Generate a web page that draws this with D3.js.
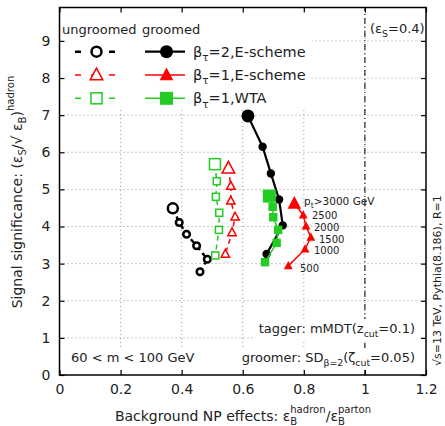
<!DOCTYPE html>
<html><head><meta charset="utf-8">
<script src="https://cdn.jsdelivr.net/npm/d3@7"></script>
<style>body{margin:0;background:#fff}svg{display:block}text{font-family:"DejaVu Sans",sans-serif;fill:#222}</style>
</head><body><div id="c"></div>
<script>
// ---- data ----
const xTicks = [0, 0.2, 0.4, 0.6, 0.8, 1, 1.2];
const yTicks = [0, 1, 2, 3, 4, 5, 6, 7, 8, 9];
const ptLabels = ["p_t>3000 GeV", "2500", "2000", "1500", "1000", "500"];
// ungroomed (open markers, dashed)
const ungB2E_x = [0.371, 0.392, 0.416, 0.449, 0.484, 0.460];
const ungB2E_y = [4.49, 4.11, 3.79, 3.48, 3.12, 2.78];
const ungB1E_x = [0.553, 0.561, 0.561, 0.575, 0.565, 0.543];
const ungB1E_y = [5.57, 5.09, 4.69, 4.26, 3.84, 3.26];
const ungB1W_x = [0.509, 0.515, 0.512, 0.523, 0.522, 0.510];
const ungB1W_y = [5.68, 5.22, 4.80, 4.37, 3.91, 3.22];
// groomed (filled markers, solid)
const grB2E_x = [0.617, 0.665, 0.692, 0.719, 0.731, 0.678];
const grB2E_y = [6.98, 6.15, 5.43, 4.73, 4.03, 3.26];
const grB1E_x = [0.769, 0.798, 0.807, 0.823, 0.804, 0.749];
const grB1E_y = [4.62, 4.31, 4.01, 3.71, 3.39, 2.94];
const grB1W_x = [0.687, 0.698, 0.700, 0.716, 0.711, 0.673];
const grB1W_y = [4.82, 4.53, 4.25, 3.91, 3.56, 3.04];

const BLACK = "#000", RED = "#ff0000", GREEN = "#22cc22";
const series = [
  {x: ungB2E_x, y: ungB2E_y, color: BLACK, shape: "circle", filled: false, lw: 2.5, dash: "5,4"},
  {x: ungB1E_x, y: ungB1E_y, color: RED, shape: "triangle", filled: false, lw: 1.5, dash: "5,4"},
  {x: ungB1W_x, y: ungB1W_y, color: GREEN, shape: "square", filled: false, lw: 1.5, dash: "5,4"},
  {x: grB2E_x, y: grB2E_y, color: BLACK, shape: "circle", filled: true, lw: 2.2, dash: null},
  {x: grB1E_x, y: grB1E_y, color: RED, shape: "triangle", filled: true, lw: 1.5, dash: null},
  {x: grB1W_x, y: grB1W_y, color: GREEN, shape: "square", filled: true, lw: 1.5, dash: null}
];

const W = 445, H = 426;
const svg = d3.select("#c").append("svg").attr("width", W).attr("height", H);
const x = d3.scaleLinear().domain([0, 1.2]).range([59.5, 426]);
const y = d3.scaleLinear().domain([0, 9.9]).range([375, 7.5]);

const gGrid = svg.append("g"), gBox = svg.append("g"), gText = svg.append("g"),
      gData = svg.append("g"), gFrame = svg.append("g");

// rich text helper
function rich(t, parts, size) {
  let cur = 0;
  parts.forEach(p => {
    const ts = t.append("tspan").text(p.t);
    const target = p.sub ? size * 0.3 : p.sup ? -size * 0.55 : 0;
    ts.attr("dy", target - cur); cur = target;
    if (p.sub || p.sup) ts.attr("font-size", size * 0.72);
    if (p.dx) ts.attr("dx", p.dx);
  });
  return t;
}
function boxed(t, padX, padY) {
  const b = t.node().getBBox();
  gBox.append("rect").attr("x", b.x - padX).attr("y", b.y - padY)
    .attr("width", b.width + 2 * padX).attr("height", b.height + 2 * padY).attr("fill", "#fff");
}

// grid
xTicks.filter(v => v > 0 && v < 1.2).forEach(v => {
  gGrid.append("line").attr("x1", x(v)).attr("x2", x(v)).attr("y1", y(0)).attr("y2", y(9.9))
    .attr("stroke", "#999").attr("stroke-width", 1).attr("stroke-dasharray", "1,3");
});
yTicks.filter(v => v > 0).forEach(v => {
  gGrid.append("line").attr("x1", x(0)).attr("x2", x(1.2)).attr("y1", y(v)).attr("y2", y(v))
    .attr("stroke", "#999").attr("stroke-width", 1).attr("stroke-dasharray", "1,3");
});
// vertical reference line at eps_B ratio = 1
gGrid.append("line").attr("x1", x(1)).attr("x2", x(1)).attr("y1", y(0)).attr("y2", y(9.9))
  .attr("stroke", "#000").attr("stroke-width", 1).attr("stroke-dasharray", "6,3,1,3");

// legend background
gBox.append("rect").attr("x", x(0) + 1).attr("y", y(9.9) + 1).attr("width", 251).attr("height", 100).attr("fill", "#fff");

// markers
function marker(g, shape, cx, cy, s, color, filled, lw) {
  if (shape === "circle") {
    g.append("circle").attr("cx", cx).attr("cy", cy).attr("r", s)
      .attr("fill", filled ? color : "#fff").attr("stroke", color).attr("stroke-width", filled ? 0 : lw);
  } else if (shape === "square") {
    g.append("rect").attr("x", cx - s).attr("y", cy - s).attr("width", 2 * s).attr("height", 2 * s)
      .attr("fill", filled ? color : "#fff").attr("stroke", color).attr("stroke-width", filled ? 0 : 1.5);
  } else {
    const h = s * 1.15;
    g.append("path").attr("d", `M${cx},${cy - h}L${cx + s * 1.05},${cy + h * 0.7}L${cx - s * 1.05},${cy + h * 0.7}Z`)
      .attr("fill", filled ? color : "#fff").attr("stroke", color).attr("stroke-width", filled ? 0 : 1.5);
  }
}
function sizeFor(sh, filled, big) {
  if (sh === "circle") return filled ? (big ? 6.5 : 4.2) : (big ? 5 : 3.3);
  if (sh === "square") return filled ? (big ? 6.5 : 4.2) : (big ? 5.5 : 3.5);
  return filled ? (big ? 6.5 : 4.2) : (big ? 6 : 4);
}

const line = d3.line().x(d => x(d[0])).y(d => y(d[1]));
series.forEach(s => {
  const pts = s.x.map((v, i) => [v, s.y[i]]);
  gData.append("path").attr("d", line(pts)).attr("fill", "none").attr("stroke", s.color)
    .attr("stroke-width", s.lw).attr("stroke-dasharray", s.dash);
  pts.forEach((p, i) => marker(gData, s.shape, x(p[0]), y(p[1]), sizeFor(s.shape, s.filled, i === 0), s.color, s.filled, s.lw));
});

// legend
gText.append("text").attr("x", 62).attr("y", 34).attr("font-size", 13).text("ungroomed");
gText.append("text").attr("x", 142).attr("y", 34).attr("font-size", 13).text("groomed");
const legNames = [
  [{t: "β"}, {t: "τ", sub: true}, {t: "=2,E-scheme"}],
  [{t: "β"}, {t: "τ", sub: true}, {t: "=1,E-scheme"}],
  [{t: "β"}, {t: "τ", sub: true}, {t: "=1,WTA"}]
];
[0, 1, 2].forEach(k => {
  const ly = 51.7 + k * 23.3;
  const su = series[k], sg = series[k + 3];
  gText.append("path").attr("d", `M75,${ly}L115,${ly}`).attr("stroke", su.color).attr("stroke-width", su.lw)
    .attr("stroke-dasharray", "6,10,8,10,6");
  marker(gText, su.shape, 96.5, ly, sizeFor(su.shape, false, true), su.color, false, su.lw);
  gText.append("path").attr("d", `M145,${ly}L185,${ly}`).attr("stroke", sg.color).attr("stroke-width", sg.lw);
  marker(gText, sg.shape, 166.5, ly, sizeFor(sg.shape, true, true), sg.color, true, sg.lw);
  rich(gText.append("text").attr("x", 193).attr("y", ly + 5).attr("font-size", 14.5), legNames[k], 14.5);
});

// eps_S label
const tEps = rich(gText.append("text").attr("x", 370).attr("y", 33).attr("font-size", 13),
  [{t: "(ε"}, {t: "S", sub: true}, {t: "=0.4)"}], 13);
boxed(tEps, 2, 1);

// pt labels
const ptPos = [[304, 205], [312, 219.2], [314, 230.9], [319, 242.6], [314, 254.3], [300, 272]];
ptLabels.forEach((l, i) => {
  const t = gText.append("text").attr("x", ptPos[i][0]).attr("y", ptPos[i][1]).attr("font-size", 10.5);
  if (i === 0) rich(t, [{t: "p"}, {t: "t", sub: true}, {t: ">3000 GeV"}], 11);
  else t.attr("font-size", 10).text(l);
});

// bottom annotations
const tTag = rich(gText.append("text").attr("x", 415).attr("y", 333).attr("font-size", 13).attr("text-anchor", "end"),
  [{t: "tagger: mMDT(z"}, {t: "cut", sub: true}, {t: "=0.1)"}], 13);
boxed(tTag, 6, 2);
const tGr = rich(gText.append("text").attr("x", 415).attr("y", 362).attr("font-size", 13).attr("text-anchor", "end"),
  [{t: "groomer: SD"}, {t: "β=2", sub: true}, {t: "(ζ"}, {t: "cut", sub: true}, {t: "=0.05)"}], 13);
boxed(tGr, 6, 2);
const tM = gText.append("text").attr("x", 71).attr("y", 362).attr("font-size", 13).text("60 < m < 100 GeV");
boxed(tM, 6, 2);

// right rotated label
gText.append("text").attr("transform", "translate(441,366) rotate(-90)").attr("font-size", 11)
  .text("√s=13 TeV, Pythia(8.186), R=1");

// frame and ticks
gFrame.append("rect").attr("x", x(0)).attr("y", y(9.9)).attr("width", x(1.2) - x(0)).attr("height", y(0) - y(9.9))
  .attr("fill", "none").attr("stroke", "#000").attr("stroke-width", 1.5);
const axB = d3.axisBottom(x).tickValues(xTicks).tickSizeInner(-5).tickSizeOuter(0).tickPadding(9).tickFormat(d3.format("~g"));
const axT = d3.axisTop(x).tickValues(xTicks).tickSizeInner(-5).tickSizeOuter(0).tickFormat("");
const axL = d3.axisLeft(y).tickValues(yTicks).tickSizeInner(-5).tickSizeOuter(0).tickPadding(9).tickFormat(d3.format("d"));
const axR = d3.axisRight(y).tickValues(yTicks).tickSizeInner(-5).tickSizeOuter(0).tickFormat("");
[[axB, `translate(0,${y(0)})`], [axT, `translate(0,${y(9.9)})`], [axL, `translate(${x(0)},0)`], [axR, `translate(${x(1.2)},0)`]]
  .forEach(([ax, tr]) => {
    const g = gFrame.append("g").attr("transform", tr).call(ax);
    g.select(".domain").remove();
    g.selectAll("line").attr("stroke", "#000").attr("stroke-width", 1.2);
    g.selectAll("text").attr("font-size", 14).attr("font-family", "DejaVu Sans").attr("fill", "#222");
  });

// axis titles
rich(svg.append("text").attr("x", 243).attr("y", 421).attr("font-size", 14).attr("text-anchor", "middle"),
  [{t: "Background NP effects: ε"}, {t: "B", sub: true}, {t: "hadron", sup: true, dx: -7}, {t: "/ε"}, {t: "B", sub: true}, {t: "parton", sup: true, dx: -7}], 14);
rich(svg.append("text").attr("transform", "translate(22,192) rotate(-90)").attr("font-size", 14).attr("text-anchor", "middle"),
  [{t: "Signal significance: (ε"}, {t: "S", sub: true}, {t: "/√ ε"}, {t: "B", sub: true}, {t: ")"}, {t: "hadron", sup: true}], 14);
</script></body></html>
